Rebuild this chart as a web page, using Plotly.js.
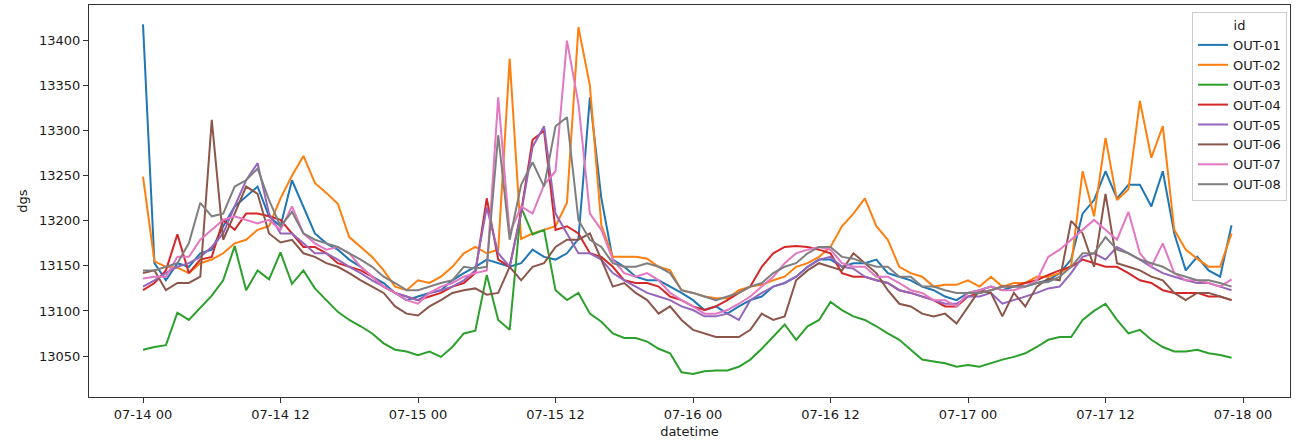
<!DOCTYPE html>
<html>
<head>
<meta charset="utf-8">
<script src="https://cdn.plot.ly/plotly-3.0.1.min.js"></script>
<style>html,body{margin:0;padding:0;background:#fff}#chart{width:1297px;height:441px}</style>
</head>
<body>
<div id="chart"></div>
<script>
// hourly readings, starting 2021-07-14 00:00
const startDate = [2021, 6, 14];
const seriesNames = ['OUT-01','OUT-02','OUT-03','OUT-04','OUT-05','OUT-06','OUT-07','OUT-08'];
const seriesColors = ['#1f77b4','#ff7f0e','#2ca02c','#d62728','#9467bd','#8c564b','#e377c2','#7f7f7f'];

const out01 = [13418,13153,13134,13153,13149,13164,13168,13194,13216,13227,13238,13205,13194,13245,13216,13186,
  13175,13168,13157,13149,13138,13131,13120,13112,13116,13120,13123,13134,13142,13149,13157,13153,
  13149,13153,13168,13160,13157,13164,13180,13337,13225,13157,13149,13138,13134,13134,13127,13120,
  13112,13101,13105,13097,13105,13112,13116,13127,13131,13138,13149,13157,13157,13149,13153,13153,
  13157,13142,13138,13134,13127,13123,13116,13112,13120,13123,13127,13123,13127,13127,13131,13134,
  13142,13157,13208,13223,13255,13225,13240,13240,13216,13255,13186,13145,13160,13145,13138,13195];
const out02 = [13249,13155,13149,13148,13142,13153,13157,13164,13175,13179,13190,13194,13225,13250,13272,13242,
  13231,13219,13182,13171,13160,13145,13127,13123,13134,13131,13138,13149,13164,13171,13164,13168,
  13380,13180,13186,13190,13194,13220,13415,13350,13195,13160,13160,13160,13158,13149,13145,13123,
  13120,13116,13114,13114,13123,13127,13129,13134,13138,13149,13153,13160,13171,13194,13208,13225,
  13194,13179,13149,13142,13138,13127,13129,13129,13134,13127,13138,13127,13131,13131,13138,13138,
  13142,13150,13255,13205,13292,13223,13235,13333,13270,13305,13190,13168,13158,13149,13149,13186];
const out03 = [13057,13060,13062,13098,13090,13103,13117,13134,13172,13123,13145,13135,13165,13130,13145,13125,
  13112,13099,13090,13083,13075,13064,13057,13055,13051,13055,13049,13060,13075,13078,13140,13090,
  13079,13215,13185,13190,13123,13112,13120,13097,13088,13075,13070,13070,13066,13058,13053,13032,
  13030,13033,13034,13034,13038,13046,13058,13071,13085,13068,13083,13090,13110,13101,13094,13090,
  13083,13075,13068,13057,13046,13044,13042,13038,13040,13038,13042,13046,13049,13053,13060,13068,
  13071,13071,13090,13100,13108,13090,13075,13079,13068,13060,13055,13055,13057,13053,13051,13048];
const out04 = [13123,13131,13145,13185,13142,13157,13160,13201,13190,13208,13208,13205,13201,13186,13171,13171,
  13164,13153,13149,13145,13138,13127,13120,13116,13112,13116,13120,13127,13131,13142,13225,13157,
  13149,13210,13290,13300,13190,13194,13186,13164,13160,13149,13134,13131,13131,13127,13116,13112,
  13105,13101,13105,13112,13120,13127,13149,13164,13171,13172,13171,13168,13164,13142,13138,13138,
  13134,13131,13123,13120,13116,13112,13105,13105,13116,13120,13123,13127,13127,13131,13134,13140,
  13145,13149,13157,13153,13149,13149,13142,13134,13131,13123,13120,13120,13120,13116,13116,13112];
const out05 = [13127,13134,13142,13149,13153,13160,13171,13186,13216,13245,13264,13208,13186,13186,13175,13164,
  13164,13157,13149,13142,13134,13127,13120,13116,13112,13120,13123,13127,13134,13145,13215,13164,
  13149,13208,13282,13305,13208,13186,13164,13164,13157,13142,13134,13127,13120,13116,13112,13105,
  13101,13094,13094,13097,13090,13112,13120,13127,13131,13138,13149,13157,13160,13149,13147,13138,
  13134,13131,13123,13120,13116,13112,13108,13108,13116,13116,13120,13108,13112,13116,13120,13125,
  13127,13142,13160,13164,13157,13171,13164,13157,13149,13142,13138,13134,13131,13131,13127,13123];
const out06 = [13142,13145,13123,13131,13131,13138,13312,13179,13208,13238,13230,13186,13176,13179,13164,13160,
  13153,13149,13142,13134,13127,13120,13105,13097,13095,13105,13112,13120,13123,13125,13118,13120,
  13149,13134,13149,13153,13171,13179,13179,13186,13157,13127,13131,13120,13112,13097,13105,13090,
  13079,13075,13071,13071,13071,13079,13097,13090,13094,13134,13145,13153,13149,13145,13164,13153,
  13142,13123,13108,13105,13097,13094,13097,13086,13105,13123,13120,13094,13120,13105,13127,13136,
  13134,13200,13186,13149,13230,13153,13149,13145,13138,13134,13120,13112,13120,13120,13116,13112];
const out07 = [13136,13138,13138,13160,13160,13179,13190,13201,13205,13201,13197,13201,13190,13216,13186,13175,
  13168,13171,13164,13149,13138,13127,13120,13112,13108,13120,13127,13131,13138,13142,13145,13337,
  13186,13216,13208,13240,13255,13400,13330,13208,13190,13157,13142,13138,13142,13134,13120,13112,
  13105,13097,13097,13101,13108,13116,13127,13138,13153,13164,13168,13171,13168,13153,13149,13149,
  13138,13138,13131,13123,13120,13112,13112,13105,13120,13123,13127,13123,13123,13127,13134,13160,
  13168,13179,13190,13201,13190,13179,13210,13164,13149,13175,13142,13134,13134,13131,13127,13135];
const out08 = [13145,13145,13149,13153,13175,13220,13205,13208,13238,13245,13258,13223,13194,13210,13186,13179,
  13175,13171,13164,13157,13149,13138,13131,13123,13123,13127,13131,13134,13149,13147,13149,13295,
  13179,13240,13265,13238,13305,13315,13201,13179,13171,13153,13149,13149,13153,13149,13142,13123,
  13120,13116,13112,13116,13120,13127,13131,13142,13149,13153,13164,13171,13171,13160,13158,13153,
  13149,13149,13138,13138,13127,13127,13123,13120,13120,13120,13123,13127,13127,13127,13131,13132,
  13138,13149,13164,13164,13182,13168,13164,13157,13153,13149,13142,13138,13134,13134,13131,13127];

const seriesValues = [out01,out02,out03,out04,out05,out06,out07,out08];

const xTickVals = ['2021-07-14 00:00','2021-07-14 12:00','2021-07-15 00:00','2021-07-15 12:00','2021-07-16 00:00',
  '2021-07-16 12:00','2021-07-17 00:00','2021-07-17 12:00','2021-07-18 00:00'];
const xTickText = ['07-14 00','07-14 12','07-15 00','07-15 12','07-16 00','07-16 12','07-17 00','07-17 12','07-18 00'];
const yTickVals = [13050,13100,13150,13200,13250,13300,13350,13400];

function pad(n){return String(n).padStart(2,'0');}
function stamp(i){
  const d = new Date(Date.UTC(startDate[0], startDate[1], startDate[2], i));
  return d.getUTCFullYear()+'-'+pad(d.getUTCMonth()+1)+'-'+pad(d.getUTCDate())+' '+pad(d.getUTCHours())+':00';
}
const times = out01.map((_, i) => stamp(i));

const traces = seriesNames.map((name, k) => ({
  type: 'scatter', mode: 'lines', name: name,
  x: times, y: seriesValues[k],
  line: {color: seriesColors[k], width: 2}
}));

const font = {family: 'DejaVu Sans, sans-serif', size: 13, color: '#1a1a1a'};
const layout = {
  width: 1297, height: 441,
  margin: {l: 89, r: 7, t: 5, b: 44},
  paper_bgcolor: '#fff', plot_bgcolor: '#fff',
  font: font,
  showlegend: true,
  xaxis: {
    type: 'date',
    range: ['2021-07-13 19:17:13', '2021-07-18 04:06:00'],
    tickvals: xTickVals, ticktext: xTickText,
    ticks: 'outside', ticklen: 5, tickwidth: 1, tickcolor: '#333',
    showgrid: false, zeroline: false,
    showline: true, linecolor: '#333', linewidth: 1, mirror: true,
    title: {text: 'datetime', font: font, standoff: 6},
    tickfont: font
  },
  yaxis: {
    range: [13004.5, 13439.5],
    tickvals: yTickVals, ticktext: yTickVals.map(String),
    ticks: 'outside', ticklen: 5, tickwidth: 1, tickcolor: '#333',
    showgrid: false, zeroline: false,
    showline: true, linecolor: '#333', linewidth: 1, mirror: true,
    title: {text: 'dgs', font: font, standoff: 8},
    tickfont: font
  },
  legend: {
    x: 0.9975, xanchor: 'right', y: 0.982, yanchor: 'top',
    bgcolor: 'rgba(255,255,255,0.85)', bordercolor: '#cccccc', borderwidth: 1,
    font: font,
    title: {text: 'id', side: 'top center', font: font}
  }
};

Plotly.newPlot('chart', traces, layout, {displayModeBar: false, staticPlot: true});
</script>
</body>
</html>
